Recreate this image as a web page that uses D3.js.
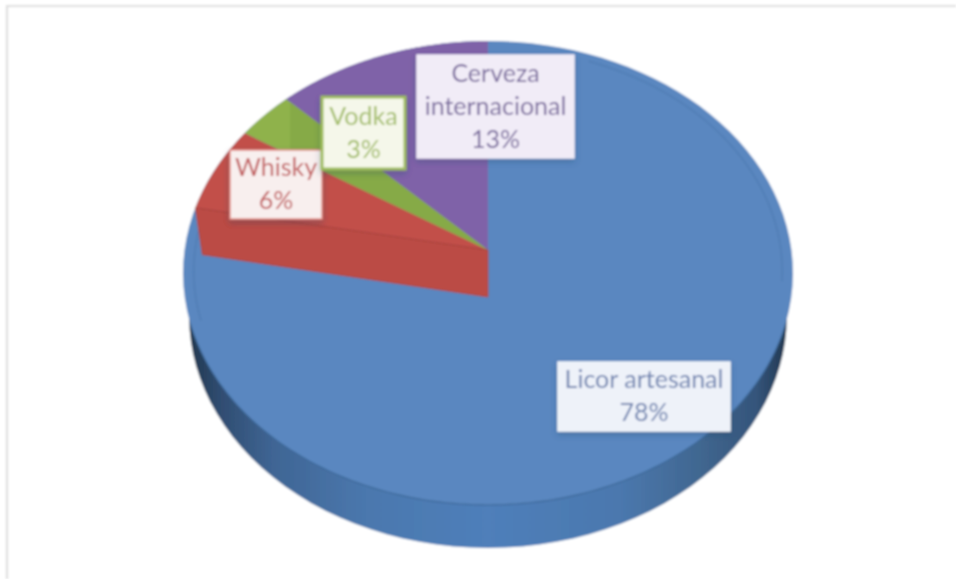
<!DOCTYPE html>
<html><head><meta charset="utf-8">
<style>html,body{margin:0;padding:0;background:#fff}svg{display:block}</style>
<script src="https://cdn.jsdelivr.net/npm/d3@7/dist/d3.min.js"></script>
</head><body><svg id="c" width="956" height="579"></svg>
<script>
const categories = ["Licor artesanal", "Whisky", "Vodka", "Cerveza internacional"];
const shares = [78, 6, 3.4, 12.6];
const labelLines = [["Licor artesanal"], ["Whisky"], ["Vodka"], ["Cerveza", "internacional"]];
const sliceColors = ["#5a87c0", "#c2504a", "#8fb24c", "#7f62a8"];
const textColors = ["#6f83b0", "#c25f60", "#a3bd68", "#7b6c9e"];
const boxFills = ["#eef2f9", "#f8efee", "#f5f7ea", "#f1ecf7"];
const boxStrokes = ["#f4f6fb", "#e58f88", "#9dbb5c", "#f1ecf7"];
const boxes = [[558, 362, 172, 69], [230, 150, 92, 69], [322, 97, 83, 72], [417, 55, 157, 103]];

const W = 956, H = 579, cx = 488, apexY = 250, topY = 41, faceBottomY = 505, halfW = 305, depth = 46;
const svg = d3.select("#c");
const defs = svg.append("defs");

// perspective disc: u,v on the unit circle -> page
const persp = (topY + faceBottomY - 2 * apexY) / (faceBottomY - topY);
const a = topY * (1 + persp) - apexY;
const k = halfW * Math.sqrt(1 - persp * persp);
const project = (theta, r = 1) => {
  const u = r * Math.sin(theta), v = r * Math.cos(theta), d = 1 + persp * v;
  return [cx + k * u / d, (a * v + apexY) / d];
};
const line = d3.line();
const arcPoints = (s, e, r = 1) => d3.range(0, 121).map(i => project(s + (e - s) * i / 120, r));
const slices = d3.pie().sort(null).value(d => d)(shares);
const ring = (r = 1) => line(arcPoints(0, 2 * Math.PI, r)) + "Z";
const rad = d3.scaleLinear().domain([0, 360]).range([0, 2 * Math.PI]);

const g1 = defs.append("linearGradient").attr("id", "side");
[[0, "#22374f"], [.05, "#2f4c70"], [.14, "#3f6594"], [.3, "#4b78ae"], [.5, "#4f7fba"], [.72, "#4b78ae"], [.86, "#40668f"], [.95, "#34547a"], [1, "#223850"]]
  .forEach(([o, col]) => g1.append("stop").attr("offset", o).attr("stop-color", col));
const sh = defs.append("filter").attr("id", "shadow").attr("x", "-20%").attr("y", "-20%").attr("width", "140%").attr("height", "150%");
sh.append("feDropShadow").attr("dx", 0).attr("dy", 3).attr("stdDeviation", 3).attr("flood-color", "#24405f").attr("flood-opacity", .3);
const soft = defs.append("filter").attr("id", "soft").attr("x", "0").attr("y", "0").attr("width", "100%").attr("height", "100%");
soft.append("feGaussianBlur").attr("stdDeviation", .8);
defs.append("clipPath").attr("id", "rightOf").append("rect").attr("x", 290).attr("y", 0).attr("width", 200).attr("height", 300);

const root = svg.append("g").attr("filter", "url(#soft)");
root.append("rect").attr("width", W).attr("height", H).attr("fill", "#fff");
// faint frame, top and left only
root.append("path").attr("d", line([[7, H], [7, 6], [W, 6]])).attr("fill", "none").attr("stroke", "#dedede").attr("stroke-width", 2.2);

// side wall: the disc outline dropped by depth and slightly narrower
root.append("path").attr("d", ring())
  .attr("transform", `translate(${cx},${depth - 3}) scale(.98,1) translate(${-cx},0)`)
  .attr("fill", "url(#side)");
// top face
root.append("path").attr("d", ring()).attr("fill", sliceColors[0]);
// bevel lines, right and lower left only
root.append("path").attr("d", line(arcPoints(rad(22), rad(98), .965))).attr("fill", "none").attr("stroke", "#4d79ae").attr("stroke-width", 1.4).attr("opacity", .7);
root.append("path").attr("d", line(arcPoints(rad(252), rad(278), .965))).attr("fill", "none").attr("stroke", "#4d79ae").attr("stroke-width", 1.4).attr("opacity", .7);
root.append("path").attr("d", line(arcPoints(rad(108), rad(252)))).attr("fill", "none").attr("stroke", "#3d6898").attr("stroke-width", 1.2);

// Whisky cut wall
const red = slices[1];
const wallTop = [project(red.startAngle), project(0, 0)];
const wallBot = [[cx, apexY + depth + 1], [cx + (wallTop[0][0] - cx) * .976, wallTop[0][1] + depth + 1]];
root.append("path").attr("d", line([...wallTop, ...wallBot]) + "Z").attr("fill", "#bb4b44").attr("stroke", "#a9423f").attr("stroke-width", .8);

// upper slices
slices.slice(1).forEach((s, i) => {
  root.append("path")
    .attr("d", line([project(0, 0), ...arcPoints(s.startAngle, s.endAngle)]) + "Z")
    .attr("fill", sliceColors[i + 1]);
});
// darker band on the green slice
const gr = slices[2];
root.append("path").attr("d", line([project(0, 0), ...arcPoints(gr.startAngle, gr.endAngle)]) + "Z")
  .attr("clip-path", "url(#rightOf)").attr("fill", "#86aa46");
root.append("path").attr("d", line(wallTop)).attr("stroke", "#a8423e").attr("stroke-width", 1).attr("fill", "none");

// labels
const labels = root.selectAll("g.lab").data(slices).join("g").attr("class", "lab");
labels.append("rect")
  .attr("x", (d, i) => boxes[i][0]).attr("y", (d, i) => boxes[i][1])
  .attr("width", (d, i) => boxes[i][2]).attr("height", (d, i) => boxes[i][3])
  .attr("fill", (d, i) => boxFills[i]).attr("stroke", (d, i) => boxStrokes[i])
  .attr("stroke-width", (d, i) => i === 2 ? 3 : 1.5).attr("filter", "url(#shadow)");
labels.each(function (d, i) {
  const rows = [...labelLines[i], d3.format(".0f")(d.value) + "%"];
  const n = rows.length, b = boxes[i], lh = 33;
  d3.select(this).selectAll("text").data(rows).join("text")
    .attr("x", b[0] + b[2] / 2)
    .attr("y", (t, j) => b[1] + b[3] / 2 + (j - (n - 1) / 2) * lh + 8)
    .attr("text-anchor", "middle").attr("font-family", "Lato, 'Open Sans', sans-serif")
    .attr("font-size", 25).attr("fill", textColors[i]).text(t => t);
});
</script></body></html>
